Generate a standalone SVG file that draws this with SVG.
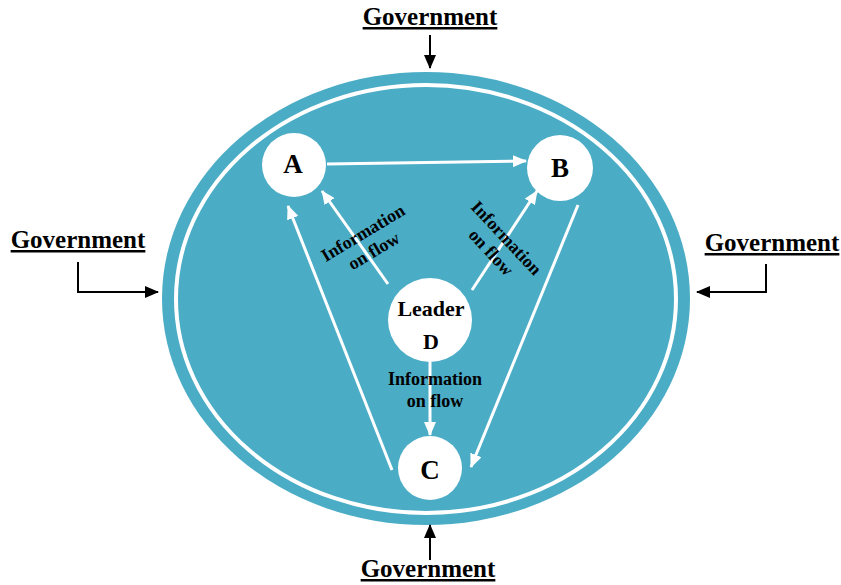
<svg xmlns="http://www.w3.org/2000/svg" width="841" height="585" viewBox="0 0 841 585">
<defs>
<marker id="wa" viewBox="0 0 14 12" refX="13" refY="6" markerWidth="14" markerHeight="12" markerUnits="userSpaceOnUse" orient="auto"><path d="M0,0 L14,6 L0,12 Z" fill="#fff"/></marker>
<marker id="ba" viewBox="0 0 14 12" refX="13" refY="6" markerWidth="14" markerHeight="12" markerUnits="userSpaceOnUse" orient="auto"><path d="M0,0 L14,6 L0,12 Z" fill="#000"/></marker>
</defs>
<style>
.gov{font-family:"Liberation Serif",serif;font-weight:bold;font-size:25px;text-anchor:middle;text-decoration:underline;fill:#000}
.lbl{font-family:"Liberation Serif",serif;font-weight:bold;font-size:18px;text-anchor:middle;fill:#000}
.nd{font-family:"Liberation Serif",serif;font-weight:bold;text-anchor:middle;fill:#000}
.wl{stroke:#fff;stroke-width:3;fill:none;marker-end:url(#wa)}
.bl{stroke:#000;stroke-width:2;fill:none;marker-end:url(#ba)}
.node{fill:#fff}
</style>
<rect width="841" height="585" fill="#fff"/>
<g id="boundary">
<ellipse cx="426" cy="298.5" rx="264" ry="226.5" fill="#4BACC6"/>
<ellipse cx="426" cy="299" rx="250" ry="214" fill="none" stroke="#fff" stroke-width="4"/>
</g>
<g id="connectors">
<line class="wl" x1="327" y1="164" x2="526" y2="161"/>
<line class="wl" x1="388" y1="284" x2="322" y2="191"/>
<line class="wl" x1="472" y1="290" x2="537" y2="191"/>
<line class="wl" x1="430" y1="362" x2="430" y2="435"/>
<line class="wl" x1="578" y1="205" x2="471" y2="467"/>
<line class="wl" x1="392" y1="470" x2="288" y2="206"/>
<line class="bl" x1="430" y1="35" x2="430" y2="68"/>
<line class="bl" x1="430" y1="560" x2="430" y2="525"/>
<polyline class="bl" points="78,262 78,292 158,292"/>
<polyline class="bl" points="766,264 766,292 697,292"/>
</g>
<g id="nodeA"><circle class="node" cx="294" cy="165" r="32"/><text class="nd" x="293" y="173" font-size="27">A</text></g>
<g id="nodeB"><circle class="node" cx="560" cy="168" r="33"/><text class="nd" x="560" y="177" font-size="27">B</text></g>
<g id="nodeD"><circle class="node" cx="430" cy="320" r="42"/><text class="nd" x="431" y="316" font-size="22">Leader</text><text class="nd" x="431" y="349" font-size="22">D</text></g>
<g id="nodeC"><circle class="node" cx="430" cy="468" r="32"/><text class="nd" x="430" y="479" font-size="27">C</text></g>
<g id="labels">
<g transform="translate(366,238) rotate(-31)"><text class="lbl" x="0" y="0">Information</text><text class="lbl" x="0" y="21">on flow</text></g>
<g transform="translate(502,242) rotate(47)"><text class="lbl" x="0" y="0">Information</text><text class="lbl" x="0" y="21">on flow</text></g>
<text class="lbl" x="435" y="385">Information</text>
<text class="lbl" x="435" y="407">on flow</text>
</g>
<g id="gov-top"><text class="gov" x="430" y="25">Government</text></g>
<g id="gov-left"><text class="gov" x="78" y="248">Government</text></g>
<g id="gov-right"><text class="gov" x="772" y="251">Government</text></g>
<g id="gov-bottom"><text class="gov" x="428" y="577">Government</text></g>
</svg>
